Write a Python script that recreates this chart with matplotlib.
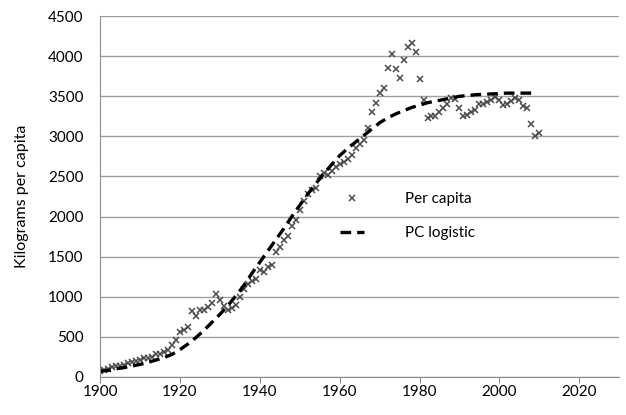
import numpy as np
import matplotlib
matplotlib.use("Agg")
import matplotlib.pyplot as plt

plt.rcParams['font.family'] = ['Lato', 'DejaVu Sans']

# Consumo per capita (kg), ano a ano
anos = list(range(1900, 2011))
per_capita = [
    70, 90, 100, 120, 130, 140, 150, 170, 190, 200,
    210, 240, 230, 250, 280, 290, 310, 340, 400, 460,
    560, 580, 620, 820, 760, 840, 840, 870, 920, 1030,
    960, 880, 840, 860, 900, 990, 1100, 1160, 1200, 1220,
    1330, 1310, 1370, 1400, 1560, 1620, 1710, 1760, 1880, 1960,
    2080, 2200, 2280, 2330, 2360, 2500, 2540, 2520, 2570, 2620,
    2650, 2680, 2720, 2770, 2850, 2900, 2950, 3100, 3300, 3420,
    3540, 3600, 3850, 4030, 3840, 3730, 3950, 4120, 4160, 4050,
    3710, 3450, 3230, 3250, 3260, 3300, 3350, 3400, 3480, 3470,
    3350, 3260, 3270, 3300, 3330, 3400, 3410, 3430, 3460, 3490,
    3450, 3390, 3400, 3440, 3480, 3450, 3380, 3350, 3160, 3000,
    3040,
]

# Curva logística (de 2 em 2 anos)
anos_log = list(range(1900, 2009, 2))
logistica = [
    70, 80, 100, 115, 135, 155, 180, 210, 240, 280,
    340, 410, 490, 580, 680, 780, 890, 1010, 1140, 1290,
    1430, 1570, 1710, 1850, 2000, 2140, 2280, 2410, 2530, 2650,
    2760, 2850, 2930, 3010, 3090, 3170, 3230, 3280, 3320, 3360,
    3390, 3420, 3440, 3460, 3480, 3500, 3510, 3520, 3525, 3530,
    3535, 3540, 3540, 3540, 3540,
]

fig = plt.figure(figsize=(6.26, 4.15), dpi=100)
ax = fig.add_axes([0.16, 0.092, 0.829, 0.869])

ax.plot(anos, per_capita, linestyle='none', marker='x', markersize=5,
        markeredgewidth=1.1, color='#4a4a4a', label='Per capita')
ax.plot(anos_log, logistica, color='black', linewidth=2.4,
        dashes=(3.2, 1.8), label='PC logistic')

ax.set_xlim(1900, 2030)
ax.set_ylim(0, 4500)
ax.set_xticks(range(1900, 2021, 20))
ax.set_yticks(range(0, 4501, 500))
ax.grid(axis='y', color='#a0a0a0', linewidth=1)
ax.set_axisbelow(True)

for lado in ['top', 'right']:
    ax.spines[lado].set_visible(False)
for lado in ['left', 'bottom']:
    ax.spines[lado].set_color('#8c8c8c')
ax.tick_params(axis='x', length=4, color='#8c8c8c', labelsize=11, pad=2)
ax.tick_params(axis='y', length=0, labelsize=11, pad=12)

ax.set_ylabel('Kilograms per capita', fontsize=11.5, labelpad=14)

ax.legend(loc='center left', bbox_to_anchor=(0.435, 0.445), frameon=False,
          fontsize=11, handlelength=1.6, markerscale=0.8, labelspacing=1.3,
          handletextpad=2.7)

fig.savefig('out.png', dpi=100)
